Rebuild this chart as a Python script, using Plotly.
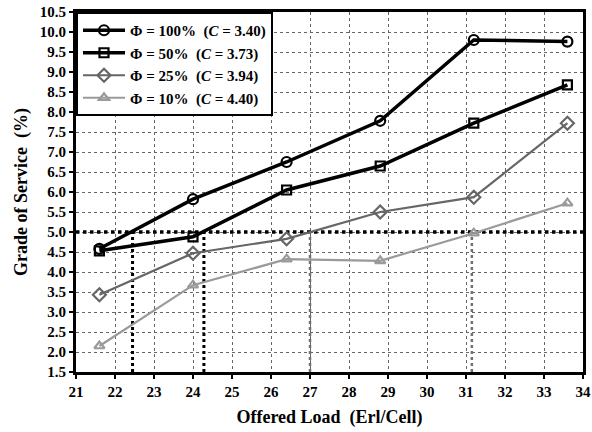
import plotly.graph_objects as go

# ---- data ----
offered_load = [21.6, 24.0, 26.4, 28.8, 31.2, 33.6]
gos_phi100 = [4.58, 5.82, 6.75, 7.78, 9.80, 9.76]
gos_phi50 = [4.53, 4.88, 6.05, 6.65, 7.72, 8.68]
gos_phi25 = [3.43, 4.47, 4.83, 5.50, 5.87, 7.72]
gos_phi10 = [2.15, 3.67, 4.32, 4.28, 4.97, 5.72]
series_names = [
    "Φ = 100%  (<i>C</i> = 3.40)",
    "Φ = 50%  (<i>C</i> = 3.73)",
    "Φ = 25%  (<i>C</i> = 3.94)",
    "Φ = 10%  (<i>C</i> = 4.40)",
]
gos_target = 5.0
crossing_loads = [22.45, 24.28, 27.0, 31.15]
x_ticks = list(range(21, 35))
y_ticks = [1.5 + 0.5 * i for i in range(19)]

FONT = "Liberation Serif"

fig = go.Figure()

# reference lines (target GoS and crossings)
fig.add_trace(go.Scatter(x=[21, 34], y=[gos_target, gos_target], mode="lines",
                         line=dict(color="black", width=3.5, dash="dot"),
                         showlegend=False, hoverinfo="skip"))
cross_styles = [("black", 3), ("black", 3), ("#707070", 2.5), ("#707070", 2.5)]
for xc, (col, w) in zip(crossing_loads, cross_styles):
    fig.add_trace(go.Scatter(x=[xc, xc], y=[1.5, gos_target], mode="lines",
                             line=dict(color=col, width=w, dash="dot"),
                             showlegend=False, hoverinfo="skip"))

styles = [
    (gos_phi100, "black", 3.5, "circle-open", 10),
    (gos_phi50, "black", 3.5, "square-open", 9),
    (gos_phi25, "#666666", 2.2, "diamond-open", 10),
    (gos_phi10, "#9a9a9a", 2.2, "triangle-up-open", 9),
]
for (ys, col, w, sym, sz), name in zip(styles, series_names):
    fig.add_trace(go.Scatter(
        x=offered_load, y=ys, mode="lines+markers", name=name,
        line=dict(color=col, width=w),
        marker=dict(symbol=sym, size=sz, color=col, line=dict(color=col, width=2.2)),
    ))

fig.update_layout(
    width=592, height=432,
    margin=dict(l=76, r=9, t=12, b=60),
    paper_bgcolor="white", plot_bgcolor="white",
    font=dict(family=FONT, size=14, color="black"),
    legend=dict(x=0.0, y=1.0, xanchor="left", yanchor="top",
                bgcolor="white", bordercolor="black", borderwidth=2,
                font=dict(family=FONT, size=15, color="black", weight="bold"),
                tracegroupgap=0, itemwidth=42),
    showlegend=True,
)
fig.update_xaxes(
    range=[21, 34], tickvals=x_ticks, ticktext=[f"<b>{t}</b>" for t in x_ticks],
    showgrid=True, gridcolor="#666666", griddash="dot", gridwidth=1,
    showline=True, linecolor="black", linewidth=3, mirror=True,
    ticks="outside", ticklen=4, tickcolor="black", tickwidth=2,
    tickfont=dict(family=FONT, size=15, weight="bold"),
    title=dict(text="<b>Offered Load  (Erl/Cell)</b>",
               font=dict(family=FONT, size=18), standoff=12),
    zeroline=False, automargin=False,
)
fig.update_yaxes(
    range=[1.5, 10.5], tickvals=y_ticks, ticktext=[f"<b>{v:.1f}</b>" for v in y_ticks],
    showgrid=True, gridcolor="#666666", griddash="dot", gridwidth=1,
    showline=True, linecolor="black", linewidth=3, mirror=True,
    ticks="outside", ticklen=4, tickcolor="black", tickwidth=2,
    tickfont=dict(family=FONT, size=15, weight="bold"),
    title=dict(text="<b>Grade of Service  (%)</b>",
               font=dict(family=FONT, size=18), standoff=8),
    zeroline=False, automargin=False,
)

fig.write_html(
    "out.html",
    config={"displayModeBar": False},
    post_script="document.body.style.margin='0';document.body.style.overflow='hidden';",
)
